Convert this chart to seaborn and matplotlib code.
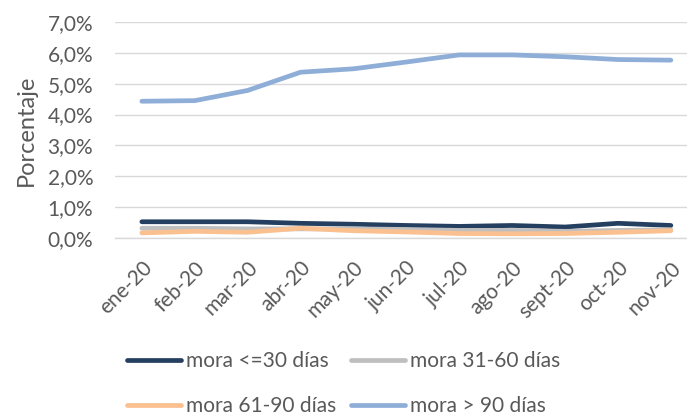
import matplotlib
matplotlib.use("Agg")
import matplotlib.pyplot as plt
from matplotlib.ticker import FuncFormatter, FixedLocator
import seaborn as sns
import pandas as pd
import numpy as np

months = ["ene-20", "feb-20", "mar-20", "abr-20", "may-20", "jun-20",
          "jul-20", "ago-20", "sept-20", "oct-20", "nov-20"]
mora_30 = [0.53, 0.53, 0.53, 0.48, 0.45, 0.41, 0.38, 0.41, 0.36, 0.48, 0.41]
mora_31_60 = [0.32, 0.32, 0.30, 0.30, 0.30, 0.28, 0.25, 0.25, 0.22, 0.25, 0.27]
mora_61_90 = [0.17, 0.22, 0.19, 0.32, 0.24, 0.20, 0.15, 0.14, 0.15, 0.19, 0.24]
mora_90 = [4.43, 4.45, 4.78, 5.37, 5.48, 5.70, 5.93, 5.93, 5.87, 5.78, 5.76]

series_names = ["mora <=30 días", "mora 31-60 días", "mora 61-90 días", "mora > 90 días"]
colors = ["#243f60", "#bfbfbf", "#fac090", "#8eaed8"]

rows = []
for name, vals in zip(series_names, [mora_30, mora_31_60, mora_61_90, mora_90]):
    for i, v in enumerate(vals):
        rows.append({"pos": i, "mes": months[i], "serie": name, "valor": v})
df = pd.DataFrame(rows)

sns.set_theme(style="white")
plt.rcParams["font.family"] = ["Lato", "DejaVu Sans"]
text_color = "#595959"

fig = plt.figure(figsize=(6.87, 4.2), dpi=100)
ax = fig.add_axes([0.168, 0.433, 0.847, 0.515])

sns.lineplot(data=df, x="pos", y="valor", hue="serie", hue_order=series_names,
             palette=colors, linewidth=3.4, ax=ax, legend=True,
             solid_capstyle="round", solid_joinstyle="round")

ax.set_xlim(-0.5, len(months) - 0.5)
ax.set_ylim(0, 7.0)
ax.set_yticks(np.arange(0, 7.01, 1.0))
ax.yaxis.set_major_formatter(FuncFormatter(lambda v, p: f"{v:.1f}%".replace(".", ",")))
ax.grid(axis="y", color="#d9d9d9", linewidth=1.0)
ax.set_axisbelow(True)

ax.xaxis.set_major_locator(FixedLocator(range(len(months))))
ax.set_xticklabels(months, rotation=45, ha="right", rotation_mode="anchor")
ax.xaxis.set_minor_locator(FixedLocator(np.arange(-0.5, len(months), 1.0)))
ax.tick_params(axis="x", which="major", length=0, pad=14, labelsize=15, labelcolor=text_color)
ax.tick_params(axis="x", which="minor", length=7, width=1, color="#d9d9d9", direction="out")
ax.tick_params(axis="y", length=0, labelsize=15, labelcolor=text_color, pad=16)

for s in ["top", "right", "left"]:
    ax.spines[s].set_visible(False)
ax.spines["bottom"].set_color("#d9d9d9")
ax.spines["bottom"].set_linewidth(1.0)

ax.set_xlabel("")
ax.set_ylabel("Porcentaje", fontsize=17, color=text_color, labelpad=8)

handles, labels = ax.get_legend_handles_labels()
ax.get_legend().remove()
order = [0, 2, 1, 3]
fig.legend([handles[i] for i in order], [labels[i] for i in order],
           loc="center", bbox_to_anchor=(0.5, 0.086), ncol=2, frameon=False,
           fontsize=15, labelcolor=text_color, handlelength=2.6,
           handletextpad=0.25, columnspacing=0.7, labelspacing=1.2,
           borderpad=0.2)

fig.savefig("out.png", dpi=100)
